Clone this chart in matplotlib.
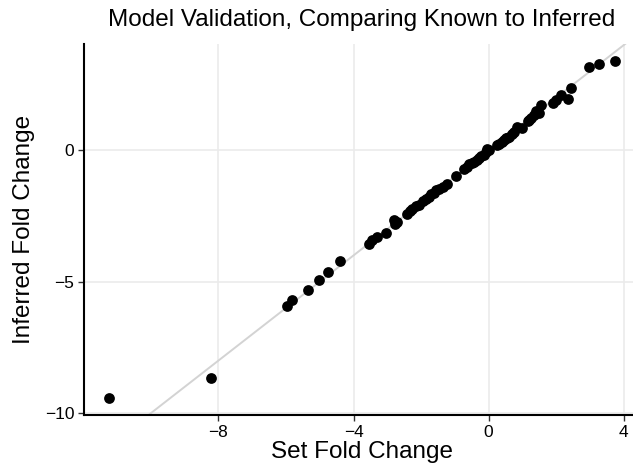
import matplotlib.pyplot as plt

plt.rcParams['font.family'] = ['Liberation Sans', 'DejaVu Sans']

# known (set) vs inferred fold changes
set_fc = [-11.23, -8.21, -5.96, -5.82, -5.36, -5.02, -4.77, -4.39,
          -3.55, -3.45, -3.30, -3.05, -2.81, -2.76, -2.72, -2.41,
          -2.33, -2.26, -2.15, -2.07, -1.95, -1.87, -1.77, -1.70,
          -1.62, -1.55, -1.47, -1.35, -1.22, -0.98, -0.73, -0.65,
          -0.58, -0.50, -0.43, -0.36, -0.29, -0.22, -0.14, -0.08,
          -0.04, 0.01, 0.26, 0.31, 0.38, 0.45, 0.52, 0.55, 0.60,
          0.68, 0.75, 0.85, 1.00, 1.15, 1.19, 1.24, 1.34, 1.39,
          1.49, 1.54, 1.89, 1.98, 2.13, 2.36, 2.43, 2.97, 3.27, 3.73]
inferred_fc = [-9.43, -8.67, -5.93, -5.68, -5.30, -4.92, -4.65, -4.23,
               -3.55, -3.40, -3.30, -3.14, -2.66, -2.81, -2.74, -2.41,
               -2.30, -2.22, -2.12, -2.09, -1.93, -1.87, -1.78, -1.68,
               -1.62, -1.52, -1.46, -1.38, -1.29, -0.99, -0.70, -0.62,
               -0.53, -0.49, -0.44, -0.36, -0.28, -0.22, -0.19, -0.05,
               0.03, 0.00, 0.19, 0.22, 0.30, 0.38, 0.45, 0.48, 0.51,
               0.60, 0.70, 0.87, 0.85, 1.11, 1.14, 1.21, 1.33, 1.49,
               1.40, 1.71, 1.80, 1.92, 2.09, 1.93, 2.37, 3.17, 3.27, 3.40]

x_ticks = [-8, -4, 0, 4]
y_ticks = [-10, -5, 0]

fig = plt.figure(figsize=(6.33, 4.73), dpi=100)
ax = fig.add_axes([84 / 633, 58 / 473, 556 / 633, 371 / 473])

ax.set_xlim(-11.98, 4.48)
ax.set_ylim(-10.07, 4.04)

ax.grid(True, color='#ebebeb', linewidth=1.2, zorder=0)
ax.set_axisbelow(True)

# identity line
ax.axline((0, 0), slope=1, color='#d3d3d3', linewidth=1.4, zorder=1)
ax.scatter(set_fc, inferred_fc, s=60, color='black', linewidths=0, zorder=3)

ax.set_xticks(x_ticks)
ax.set_yticks(y_ticks)
ax.tick_params(labelsize=12.5, length=4, width=1, color='#333333', labelcolor='black', pad=3)

for side in ['top', 'right']:
    ax.spines[side].set_visible(False)
for side in ['left', 'bottom']:
    ax.spines[side].set_linewidth(1.5)

ax.set_xlabel('Set Fold Change', fontsize=17.5, labelpad=1)
ax.set_ylabel('Inferred Fold Change', fontsize=17.5, labelpad=7)
ax.set_title('Model Validation, Comparing Known to Inferred', fontsize=17.5, pad=13)

fig.savefig('out.png', dpi=100)
